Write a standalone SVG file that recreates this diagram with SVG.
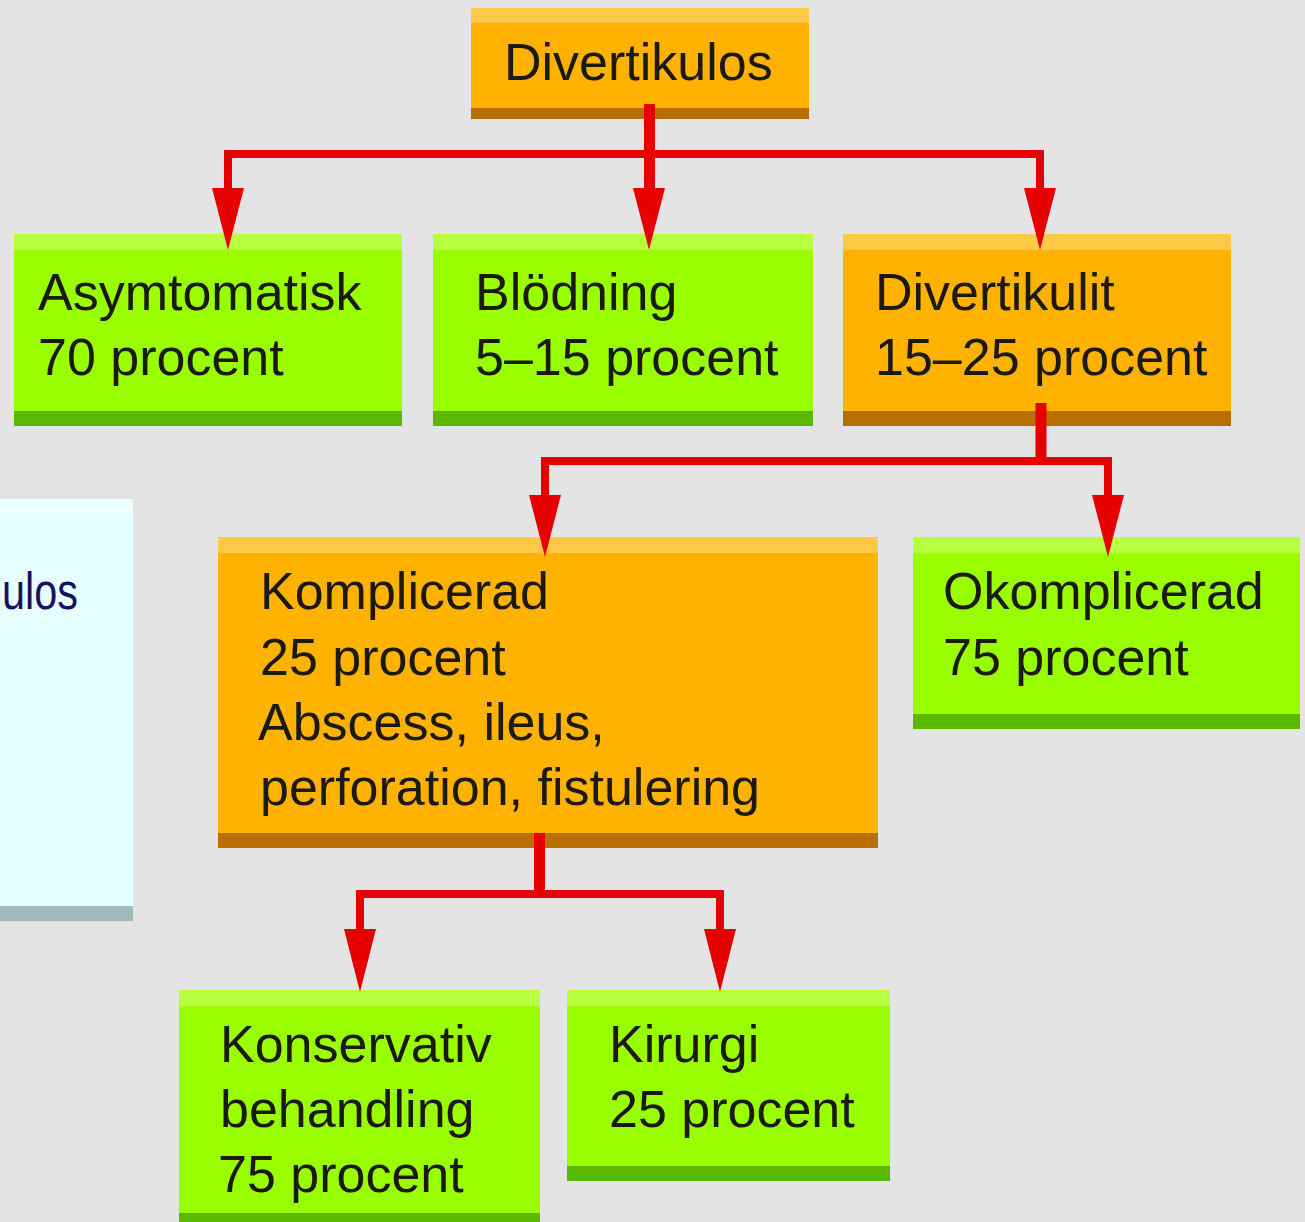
<svg xmlns="http://www.w3.org/2000/svg" width="1305" height="1222" viewBox="0 0 1305 1222">
<style>
text{font-family:"Liberation Sans",Arial,sans-serif;font-size:52px;fill:#1c1a10}
.o .l{fill:#ffc847}.o .b{fill:#ffb300}.o .d{fill:#b86f00}
.g .l{fill:#b8ff40}.g .b{fill:#99ff00}.g .d{fill:#5ab800}
.c .l{fill:#eeffff}.c .b{fill:#e6ffff}.c .d{fill:#a0b8b8}
.c text{fill:#1a1060}
.ln{stroke:#e60000;fill:none;stroke-width:8}
.ct{stroke:#e60000;fill:none;stroke-width:11}
.ah{fill:#e60000}
</style>
<rect width="1305" height="1222" fill="#e4e4e4"/>

<g id="n-left-partial" class="c">
<rect class="b" x="0" y="499" width="133" height="422"/>
<rect class="l" x="0" y="499" width="133" height="15"/>
<rect class="d" x="0" y="906" width="133" height="15"/>
<text x="2" y="609" textLength="76" lengthAdjust="spacingAndGlyphs">ulos</text>
</g>

<g id="n-divertikulos" class="o">
<rect class="b" x="471" y="8" width="338" height="111"/>
<rect class="l" x="471" y="8" width="338" height="15"/>
<rect class="d" x="471" y="108" width="338" height="11"/>
<text x="504" y="80">Divertikulos</text>
</g>

<g id="n-asymtomatisk" class="g">
<rect class="b" x="14" y="234" width="388" height="192"/>
<rect class="l" x="14" y="234" width="388" height="16"/>
<rect class="d" x="14" y="411" width="388" height="15"/>
<text x="38" y="310">Asymtomatisk</text>
<text x="38" y="375">70 procent</text>
</g>

<g id="n-blodning" class="g">
<rect class="b" x="433" y="234" width="380" height="192"/>
<rect class="l" x="433" y="234" width="380" height="16"/>
<rect class="d" x="433" y="411" width="380" height="15"/>
<text x="475" y="310">Blödning</text>
<text x="475" y="375">5–15 procent</text>
</g>

<g id="n-divertikulit" class="o">
<rect class="b" x="843" y="234" width="388" height="192"/>
<rect class="l" x="843" y="234" width="388" height="16"/>
<rect class="d" x="843" y="411" width="388" height="15"/>
<text x="875" y="310">Divertikulit</text>
<text x="875" y="375">15–25 procent</text>
</g>

<g id="n-komplicerad" class="o">
<rect class="b" x="218" y="537" width="660" height="311"/>
<rect class="l" x="218" y="537" width="660" height="16"/>
<rect class="d" x="218" y="833" width="660" height="15"/>
<text x="260" y="609">Komplicerad</text>
<text x="260" y="675">25 procent</text>
<text x="258" y="740">Abscess, ileus,</text>
<text x="260" y="805">perforation, fistulering</text>
</g>

<g id="n-okomplicerad" class="g">
<rect class="b" x="913" y="537" width="387" height="192"/>
<rect class="l" x="913" y="537" width="387" height="16"/>
<rect class="d" x="913" y="714" width="387" height="15"/>
<text x="943" y="609">Okomplicerad</text>
<text x="943" y="675">75 procent</text>
</g>

<g id="n-konservativ" class="g">
<rect class="b" x="179" y="990" width="361" height="232"/>
<rect class="l" x="179" y="990" width="361" height="16"/>
<rect class="d" x="179" y="1213" width="361" height="9"/>
<text x="220" y="1062">Konservativ</text>
<text x="220" y="1127">behandling</text>
<text x="218" y="1192">75 procent</text>
</g>

<g id="n-kirurgi" class="g">
<rect class="b" x="567" y="990" width="323" height="191"/>
<rect class="l" x="567" y="990" width="323" height="16"/>
<rect class="d" x="567" y="1166" width="323" height="15"/>
<text x="609" y="1062">Kirurgi</text>
<text x="609" y="1127">25 procent</text>
</g>

<g id="connectors">
<path class="ct" d="M649.5 104V200"/>
<path class="ln" d="M228 194V154H1040V194"/>
<path class="ah" d="M212 188H244L228 250Z"/>
<path class="ah" d="M633 188H665L649 250Z"/>
<path class="ah" d="M1024 188H1056L1040 250Z"/>

<path class="ct" d="M1041 403V465"/>
<path class="ln" d="M545 500V461H1108V500"/>
<path class="ah" d="M529 495H561L545 557Z"/>
<path class="ah" d="M1092 495H1124L1108 557Z"/>

<path class="ct" d="M539.5 833V898"/>
<path class="ln" d="M360 934V894H720V934"/>
<path class="ah" d="M344 929H376L360 992Z"/>
<path class="ah" d="M704 929H736L720 992Z"/>
</g>
</svg>
